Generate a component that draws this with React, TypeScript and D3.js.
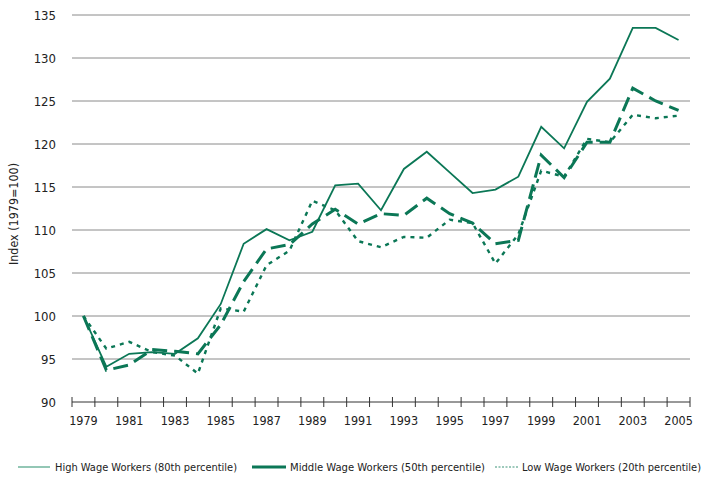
import React from 'react';
import * as d3 from 'd3';

const years = d3.range(1979, 2006).map(String);
const yTicks = [90, 95, 100, 105, 110, 115, 120, 125, 130, 135];

const highWage = [100, 94.1, 95.6, 95.8, 95.6, 97.4, 101.4, 108.4, 110.1, 108.8, 109.8, 115.2, 115.4, 112.3, 117.1, 119.1, 116.7, 114.3, 114.7, 116.2, 122.0, 119.5, 124.9, 127.6, 133.5, 133.5, 132.1];
const middleWage = [100, 93.7, 94.3, 96.1, 95.9, 95.6, 99.0, 104.0, 107.8, 108.3, 110.7, 112.4, 110.7, 111.9, 111.7, 113.7, 111.9, 110.8, 108.4, 108.8, 118.7, 116.1, 120.2, 120.2, 126.5, 125.0, 123.9];
const lowWage = [100, 96.2, 97.0, 95.8, 95.4, 93.3, 100.9, 100.5, 105.9, 107.6, 113.4, 112.3, 108.7, 108.0, 109.2, 109.1, 111.2, 110.8, 106.1, 109.5, 116.9, 116.2, 120.6, 120.2, 123.4, 123.0, 123.3];

const GREEN = '#0b7756';
const FONT = '"Liberation Sans Narrow", "DejaVu Sans Condensed", "Open Sans", sans-serif';

const seriesDefs = [
  { name: 'High Wage Workers (80th percentile)', values: highWage, width: 1.8, dash: 'none' },
  { name: 'Middle Wage Workers (50th percentile)', values: middleWage, width: 3, dash: '15,7' },
  { name: 'Low Wage Workers (20th percentile)', values: lowWage, width: 2.4, dash: '4,5' },
];

// legend layout: [lineStart, lineEnd, textStart, textWidth]
const legendPos = [
  [18, 50, 55, 182],
  [252, 286, 290, 195],
  [495, 518, 522, 179],
];

export default function App() {
  const width = 709;
  const height = 481;
  const x = d3.scaleBand().domain(years).range([72, 690]).padding(0);
  const y = d3.scaleLinear().domain([90, 135]).range([402, 15]);
  const cx = (yr: string) => (x(yr) || 0) + x.bandwidth() / 2;

  const line = d3.line<number>()
    .x((_, i) => cx(years[i]))
    .y(d => y(d));

  const tickXs = years.map(yr => x(yr) || 0).concat([690]);

  return (
    <svg width={width} height={height} style={{ position: 'absolute', left: 0, top: 0, fontFamily: FONT }}>
      {/* grid */}
      {yTicks.filter(t => t > 90).map(t => (
        <line key={t} x1={72} x2={690} y1={y(t)} y2={y(t)} stroke="#8a8a8a" strokeWidth={1} />
      ))}
      {yTicks.map(t => (
        <text key={t} x={56} y={y(t)} dy="0.35em" textAnchor="end" fontSize={13} fill="#222">{t}</text>
      ))}
      {/* x axis */}
      <line x1={72} x2={690} y1={402} y2={402} stroke="#333" strokeWidth={1} />
      {tickXs.map((tx, i) => (
        <line key={i} x1={tx} x2={tx} y1={397} y2={407} stroke="#333" strokeWidth={1} />
      ))}
      {years.filter((_, i) => i % 2 === 0).map(yr => (
        <text key={yr} x={cx(yr)} y={425} textAnchor="middle" fontSize={12.5} fill="#222">{yr}</text>
      ))}
      <text transform="translate(18,214) rotate(-90)" textAnchor="middle" fontSize={12.5} fill="#222"
        textLength={102} lengthAdjust="spacingAndGlyphs">Index (1979=100)</text>

      {/* series */}
      {seriesDefs.map(s => (
        <path key={s.name} d={line(s.values) || ''} fill="none" stroke={GREEN}
          strokeWidth={s.width} strokeDasharray={s.dash} strokeLinejoin="miter" />
      ))}

      {/* legend */}
      <g fontSize={11} fill="#222">
        <line x1={legendPos[0][0]} x2={legendPos[0][1]} y1={467} y2={467} stroke="#6fb59c" strokeWidth={1.5} />
        <line x1={legendPos[1][0]} x2={legendPos[1][1]} y1={467} y2={467} stroke={GREEN} strokeWidth={3} />
        <line x1={legendPos[2][0]} x2={legendPos[2][1]} y1={467} y2={467} stroke="#3d9478" strokeWidth={1.2} strokeDasharray="2,1.5" />
        {seriesDefs.map((s, i) => (
          <text key={s.name} x={legendPos[i][2]} y={471} textLength={legendPos[i][3]}
            lengthAdjust="spacingAndGlyphs">{s.name}</text>
        ))}
      </g>
    </svg>
  );
}
